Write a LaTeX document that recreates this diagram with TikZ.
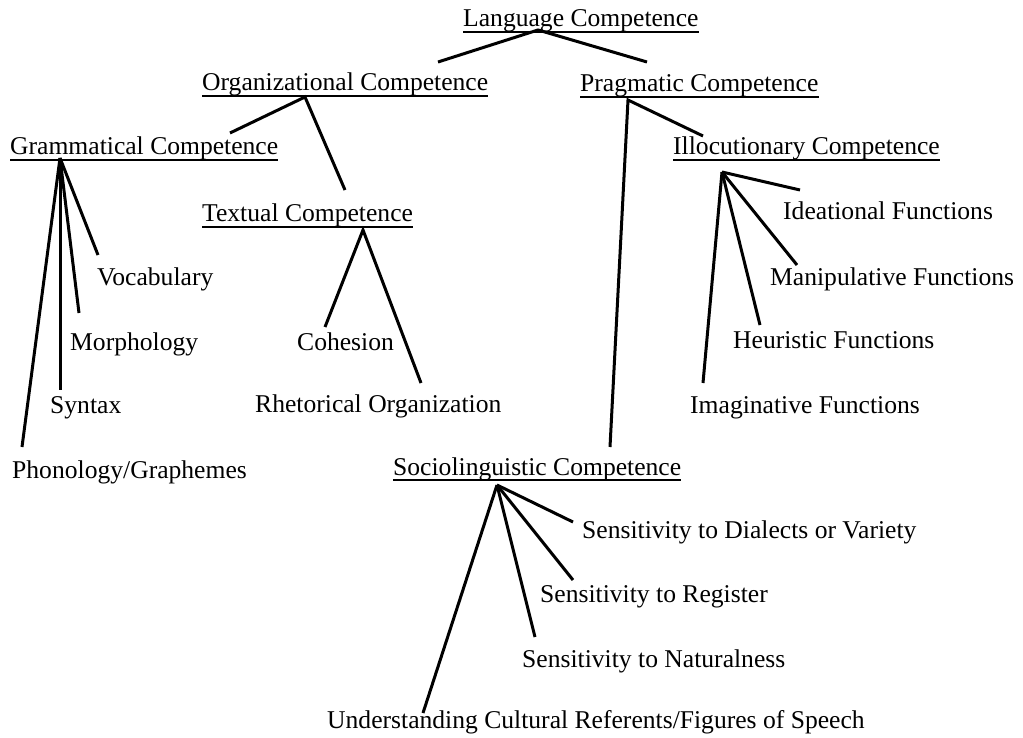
\documentclass[tikz,border=0pt]{standalone}
\usepackage{fontspec}
\setmainfont{Liberation Serif}
\begin{document}
\begin{tikzpicture}[x=1pt,y=-1pt]
  \tikzstyle{every node}=[anchor=base west,inner sep=0pt,font=\fontsize{25.6}{30}\selectfont]
  \tikzstyle{branch}=[line width=3pt]
  \tikzstyle{uline}=[line width=1.4pt]
  \useasboundingbox (0,0) rectangle (1023,738);
  % competences (underlined)
  \node (lang)  at (463,27)  {Language Competence};
  \node (org)   at (202,91)  {Organizational Competence};
  \node (prag)  at (580,92)  {Pragmatic Competence};
  \node (gram)  at (10,155)  {Grammatical Competence};
  \node (illoc) at (673,155) {Illocutionary Competence};
  \node (text)  at (202,222) {Textual Competence};
  \node (socio) at (393,475) {Sociolinguistic Competence};
  % leaves
  \node (voc)   at (97,285)  {Vocabulary};
  \node (morph) at (70,350)  {Morphology};
  \node (syn)   at (50,413)  {Syntax};
  \node (phon)  at (12,478)  {Phonology/Graphemes};
  \node (coh)   at (297,350) {Cohesion};
  \node (rhet)  at (255,412) {Rhetorical Organization};
  \node (idea)  at (783,220) {Ideational Functions};
  \node (manip) at (770,285) {Manipulative Functions};
  \node (heur)  at (733,348) {Heuristic Functions};
  \node (imag)  at (690,413) {Imaginative Functions};
  \node (dial)  at (582,538) {Sensitivity to Dialects or Variety};
  \node (reg)   at (540,602) {Sensitivity to Register};
  \node (nat)   at (522,667) {Sensitivity to Naturalness};
  \node (und)   at (327,728) {Understanding Cultural Referents/Figures of Speech};
  \foreach \n in {lang,org,prag,gram,illoc,text,socio}
    \draw[uline] ([shift={(0,5)}]\n.base west) -- ([shift={(0,5)}]\n.base east);
  % apex of each fan
  \coordinate (lang-a)  at ([shift={(75,3)}]lang.base west);
  \coordinate (org-a)   at ([shift={(103,6)}]org.base west);
  \coordinate (prag-a)  at ([shift={(48,8)}]prag.base west);
  \coordinate (gram-a)  at ([shift={(50,3)}]gram.base west);
  \coordinate (text-a)  at ([shift={(161,8)}]text.base west);
  \coordinate (illoc-a) at ([shift={(49,17)}]illoc.base west);
  \coordinate (socio-a) at ([shift={(104,10)}]socio.base west);
  \draw[branch] ([shift={(236,-29)}]org.base west) -- (lang-a) -- ([shift={(67,-30)}]prag.base west);
  \draw[branch] ([shift={(220,-22)}]gram.base west) -- (org-a) -- ([shift={(143,-32)}]text.base west);
  \draw[branch] ([shift={(217,-28)}]socio.base west) -- (prag-a) -- ([shift={(30,-19)}]illoc.base west);
  \draw[branch] (gram-a) -- ([shift={(1,-30)}]voc.base west);
  \draw[branch] (gram-a) -- ([shift={(9,-37)}]morph.base west);
  \draw[branch] (gram-a) -- ([shift={(10,-23)}]syn.base west);
  \draw[branch] (gram-a) -- ([shift={(10,-31)}]phon.base west);
  \draw[branch] ([shift={(28,-23)}]coh.base west) -- (text-a) -- ([shift={(166,-29)}]rhet.base west);
  \draw[branch] (illoc-a) -- ([shift={(17,-30)}]idea.base west);
  \draw[branch] (illoc-a) -- ([shift={(27,-20)}]manip.base west);
  \draw[branch] (illoc-a) -- ([shift={(27,-23)}]heur.base west);
  \draw[branch] (illoc-a) -- ([shift={(13,-30)}]imag.base west);
  \draw[branch] (socio-a) -- ([shift={(-9,-16)}]dial.base west);
  \draw[branch] (socio-a) -- ([shift={(33,-22)}]reg.base west);
  \draw[branch] (socio-a) -- ([shift={(13,-30)}]nat.base west);
  \draw[branch] (socio-a) -- ([shift={(96,-15)}]und.base west);
\end{tikzpicture}
\end{document}
